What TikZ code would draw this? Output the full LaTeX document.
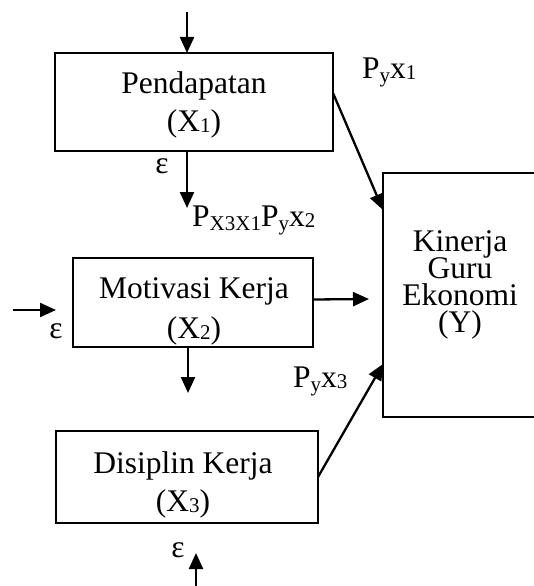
\documentclass[tikz,border=0pt]{standalone}
\usepackage{fontspec}
\setmainfont{Liberation Serif}
\usetikzlibrary{arrows.meta,calc}
\newcommand\sbs[1]{\raisebox{-4pt}{\fontsize{21}{21}\selectfont #1}}
\newcommand\sbd[1]{\raisebox{-1pt}{\fontsize{21}{21}\selectfont #1}}
\newcommand\tightlines{\fontsize{31.5}{27}\selectfont\lineskiplimit=-50pt\relax}
\begin{document}
\begin{tikzpicture}[x=1pt,y=-1pt,
  box/.style={draw, line width=1.8pt, rectangle, inner sep=0pt, outer sep=0pt},
  txt/.style={inner sep=0pt, align=center, anchor=north},
  lbl/.style={inner sep=0pt, font=\fontsize{31.5}{38}\selectfont},
  arr/.style={line width=2.3pt, -{Triangle[length=16pt,width=14pt]}}]
\useasboundingbox (0,0) rectangle (534,586);
\begin{scope}
\clip (0,0) rectangle (534,586);
% boxes
\node[box, minimum width=278pt, minimum height=98pt] (x1) at (194,102) {};
\node[box, minimum width=240pt, minimum height=89pt] (x2) at (193,302.5) {};
\node[box, minimum width=262pt, minimum height=92pt] (x3) at (187,477) {};
\node[box, minimum width=160pt, minimum height=244pt] (y) at (463,295) {};
% texts
\node[txt, font=\fontsize{31.5}{38}\selectfont] (x1t) at (194,71) {Pendapatan\\(X\sbd{1})};
\node[txt, font=\fontsize{31.5}{40}\selectfont] (x2t) at (194,277) {Motivasi Kerja\\(X\sbd{2})};
\node[txt, font=\fontsize{31.5}{38}\selectfont] (x3t) at (183,451) {Disiplin Kerja\\(X\sbd{3})};
\node[txt, font=\tightlines] (yt) at (460,230) {Kinerja\\Guru\\Ekonomi\\(Y)};
% labels
\node[lbl, anchor=base west] (p1) at (362,78) {P\sbs{y}x\sbd{1}};
\node[lbl, anchor=base west] (p2) at (192,226) {P\sbs{X3X1}P\sbs{y}x\sbd{2}};
\node[lbl, anchor=base west] (p3) at (293,387) {P\sbs{y}x\sbd{3}};
\node[lbl] (e1) at (162,166) {ε};
\node[lbl] (e2) at (56,331) {ε};
\node[lbl] (e3) at (178,550) {ε};
% free ends
\coordinate (topin) at (187,12);
\coordinate (x1out) at (187,208);
\coordinate (x2ins) at (13,310);
\coordinate (x2ine) at (56,310);
\coordinate (x2r) at (369,299);
\coordinate (x2d) at (188,393);
\coordinate (botin) at (196,586);
\coordinate (botend) at (196,553);
% connectors
\draw[arr] (topin) -- ([xshift=-7pt]x1.north);
\draw[arr] ([xshift=-7pt]x1.south) -- (x1out);
\draw[arr] ([yshift=9pt]x1.east) -- ([yshift=-37pt]y.north west);
\draw[arr] (x2ins) -- (x2ine);
\draw[arr] ([yshift=3pt]x2.east) -- (x2r);
\draw[arr] ([xshift=-5pt]x2.south) -- (x2d);
\draw[arr] (x3.east) -- ([yshift=-191pt]y.north west);
\draw[arr] (botin) -- (botend);
\end{scope}
\end{tikzpicture}
\end{document}
